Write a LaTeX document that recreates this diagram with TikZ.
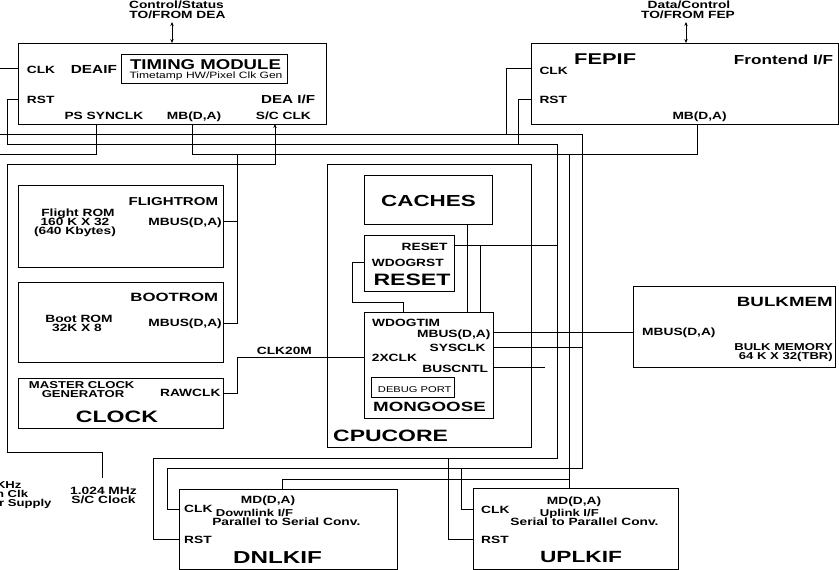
\documentclass[tikz,border=0pt]{standalone}
\usepackage{fontspec}
\setmainfont{Liberation Sans}[FakeStretch=1.31]
\newfontfamily\widefont{Liberation Sans}[FakeStretch=1.4]
\usetikzlibrary{arrows.meta,fit}
\tikzset{
  box/.style={draw, line width=1pt, inner sep=0pt, rectangle},
  wire/.style={line width=0.9pt},
  lab/.style={inner sep=0pt, font=\fontsize{10.5}{11}\selectfont\bfseries},
  slab/.style={inner sep=0pt, font=\fontsize{10}{10}\selectfont\bfseries},
  rlab/.style={inner sep=0pt, font=\fontsize{#1}{#1}\selectfont},
  midl/.style={inner sep=0pt, font=\fontsize{#1}{#1}\selectfont\bfseries},
  bigl/.style={inner sep=0pt, font=\widefont\fontsize{#1}{#1}\selectfont\bfseries},
  mytip/.tip={Stealth[length=4pt,width=3.4pt]}
}
\begin{document}
\begin{tikzpicture}[x=1pt,y=-1pt]
\useasboundingbox (0,0) rectangle (839,570);
\clip (0,0) rectangle (839,570);

% ---------------- boxes
\node[box, fit={(18,43) (326,124)}] (deaif) {};
\node[box, fit={(121,54) (287,83)}] (timing) {};
\node[box, fit={(531,43) (838,124)}] (fepif) {};
\node[box, fit={(18,185) (223,267)}] (flight) {};
\node[box, fit={(18,282) (223,362)}] (boot) {};
\node[box, fit={(18,378) (223,428)}] (clock) {};
\node[box, fit={(327,164) (531,447)}] (cpucore) {};
\node[box, fit={(364,175) (492,224)}] (caches) {};
\node[box, fit={(364,235) (454,291)}] (reset) {};
\node[box, fit={(364,312) (493,418)}] (mongoose) {};
\node[box, fit={(371,377) (454,397)}] (debug) {};
\node[box, fit={(633,286) (835,367)}] (bulkmem) {};
\node[box, fit={(179,489) (397,569)}] (dnlkif) {};
\node[box, fit={(473,488) (678,569)}] (uplkif) {};

% ---------------- texts
\node[lab, anchor=base] (tDEA1) at (176.5,8.5) {Control/Status};
\node[lab, anchor=base] (tDEA2) at (177.5,18.5) {TO/FROM DEA};
\node[lab, anchor=base] (tFEP1) at (689,8.5) {Data/Control};
\node[lab, anchor=base] (tFEP2) at (688,18.5) {TO/FROM FEP};

\node[lab, anchor=base west] (dClk) at (26.7,73.3) {CLK};
\node[midl=11.7, anchor=base west] (dName) at (70.7,73.3) {DEAIF};
\node[midl=14.2, anchor=base] (tmName) at (205.5,69) {TIMING MODULE};
\node[rlab=9.2, anchor=base] (tmSub) at (206,78.7) {Timetamp HW/Pixel Clk Gen};
\node[lab, anchor=base west] (dRst) at (26.7,103.3) {RST};
\node[midl=11.6, anchor=base east] (dIF) at (315.3,103.3) {DEA I/F};
\node[lab, anchor=base west] (dPs) at (64.3,119) {PS SYNCLK};
\node[lab, anchor=base west] (dMb) at (166.7,119) {MB(D,A)};
\node[lab, anchor=base west] (dSc) at (255.7,119) {S/C CLK};

\node[bigl=15.6, anchor=base west] (fName) at (574,64.3) {FEPIF};
\node[midl=13.1, anchor=base east] (fIF) at (833.3,64.3) {Frontend I/F};
\node[lab, anchor=base west] (fClk) at (539.3,74) {CLK};
\node[lab, anchor=base west] (fRst) at (539.3,103.3) {RST};
\node[lab, anchor=base west] (fMb) at (672.3,119) {MB(D,A)};

\node[midl=11.5, anchor=base east] (frName) at (218.3,205) {FLIGHTROM};
\node[lab, anchor=base] (fr1) at (78,216) {Flight ROM};
\node[lab, anchor=base] (fr2) at (75,225.5) {160 K X 32};
\node[lab, anchor=base] (fr3) at (75,234.5) {(640 Kbytes)};
\node[lab, anchor=base east] (frMb) at (222,225.7) {MBUS(D,A)};

\node[bigl=12, anchor=base east] (brName) at (218.3,301.7) {BOOTROM};
\node[lab, anchor=base] (br1) at (79,322.7) {Boot ROM};
\node[lab, anchor=base] (br2) at (77,331.7) {32K X 8};
\node[lab, anchor=base east] (brMb) at (222,326.7) {MBUS(D,A)};

\node[slab, anchor=base] (ck1) at (81.7,388) {MASTER CLOCK};
\node[slab, anchor=base] (ck2) at (83,397) {GENERATOR};
\node[lab, anchor=base east] (ckRaw) at (220.7,396.7) {RAWCLK};
\node[bigl=16.5, anchor=base] (ckName) at (117,422.7) {CLOCK};
\node[lab, anchor=base west] (ck20) at (256.7,354) {CLK20M};

\node[bigl=16, anchor=base] (caName) at (428.5,206) {CACHES};
\node[lab, anchor=base east] (rsOut) at (447.7,250.7) {RESET};
\node[lab, anchor=base west] (rsWd) at (371.7,266) {WDOGRST};
\node[bigl=16.5, anchor=base west] (rsName) at (373.3,285.7) {RESET};
\node[lab, anchor=base west] (mgWd) at (372,326.7) {WDOGTIM};
\node[lab, anchor=base east] (mgMb) at (490.7,337.7) {MBUS(D,A)};
\node[lab, anchor=base east] (mgSys) at (485.7,351.7) {SYSCLK};
\node[lab, anchor=base west] (mg2x) at (371.7,361.7) {2XCLK};
\node[lab, anchor=base east] (mgBus) at (488.3,372.3) {BUSCNTL};
\node[rlab=8.5, anchor=base] (dbName) at (414.7,392.3) {DEBUG PORT};
\node[bigl=13.4, anchor=base] (mgName) at (429.5,411.7) {MONGOOSE};
\node[bigl=16.4, anchor=base west] (cpName) at (333,441.7) {CPUCORE};

\node[bigl=13.4, anchor=base east] (bkName) at (833,306) {BULKMEM};
\node[lab, anchor=base west] (bkMb) at (642,335) {MBUS(D,A)};
\node[slab, anchor=base east] (bk1) at (833,350.5) {BULK MEMORY};
\node[slab, anchor=base east] (bk2) at (833,359.5) {64 K X 32(TBR)};

\node[lab, anchor=base] (dnMd) at (268,503.3) {MD(D,A)};
\node[lab, anchor=base west] (dnClk) at (184,512.7) {CLK};
\node[slab, anchor=base] (dn1) at (254.5,516) {Downlink I/F};
\node[lab, anchor=base] (dn2) at (286.3,525.3) {Parallel to Serial Conv.};
\node[lab, anchor=base west] (dnRst) at (184,543.3) {RST};
\node[bigl=17.3, anchor=base] (dnName) at (277.5,563.3) {DNLKIF};

\node[lab, anchor=base] (upMd) at (574,504.3) {MD(D,A)};
\node[lab, anchor=base west] (upClk) at (481,513.3) {CLK};
\node[slab, anchor=base] (up1) at (569.3,516) {Uplink I/F};
\node[lab, anchor=base] (up2) at (584.5,525.3) {Serial to Parallel Conv.};
\node[lab, anchor=base west] (upRst) at (481,543.3) {RST};
\node[bigl=16.2, anchor=base] (upName) at (581,562.7) {UPLKIF};

\node[lab, anchor=base] (sc1) at (103.5,494) {1.024 MHz};
\node[lab, anchor=base] (sc2) at (103.5,503.3) {S/C Clock};
\node[slab, anchor=base east] (ps1) at (21.7,488.5) {KHz};
\node[slab, anchor=base east] (ps2) at (28.3,497.5) {n Clk};
\node[slab, anchor=base east] (ps3) at (51.7,506.5) {r Supply};

% ---------------- pins and free ends
\coordinate (deaif-clk) at (18,68);
\coordinate (deaif-rst) at (18,99);
\coordinate (deaif-ps) at (96,124);
\coordinate (deaif-mb) at (192,124);
\coordinate (deaif-sc) at (275,124);
\coordinate (deaif-io) at (172,43);
\coordinate (dea-ext) at (172,22);
\coordinate (fep-clk) at (531,68);
\coordinate (fep-rst) at (531,99);
\coordinate (fep-mb) at (697,124);
\coordinate (fep-io) at (686,43);
\coordinate (fep-ext) at (686,22);
\coordinate (fr-mb) at (223,221);
\coordinate (br-mb) at (223,323);
\coordinate (ck-raw) at (223,393);
\coordinate (mg-2x) at (364,357);
\coordinate (mg-wd) at (403,312);
\coordinate (mg-c1) at (467,312);
\coordinate (mg-c2) at (480,312);
\coordinate (ca-b) at (467,224);
\coordinate (rs-out) at (454,245);
\coordinate (rs-wd) at (364,262);
\coordinate (mg-mbus) at (493,332);
\coordinate (mg-sys) at (493,347);
\coordinate (mg-bus) at (493,367);
\coordinate (bk-mbus) at (633,332);
\coordinate (dn-clk) at (179,509);
\coordinate (dn-rst) at (179,539);
\coordinate (dn-md) at (282,489);
\coordinate (up-clk) at (473,509);
\coordinate (up-rst) at (473,539);
\coordinate (up-md) at (569,488);
\coordinate (clk-off) at (-2,68);
\coordinate (clkbus-off) at (-2,134);
\coordinate (ps-off) at (-2,154);
\coordinate (bus-end) at (545,367);
\coordinate (sc-src) at (102,478);

% ---------------- wires
\draw[wire, mytip-mytip] (dea-ext) -- (deaif-io);
\draw[wire, mytip-mytip] (fep-ext) -- (fep-io);
\draw[wire] (deaif-clk) -- (clk-off);
% reset net
\draw[wire] (deaif-rst) -| (7,144) -| (557,458) -| (153,539) -- (dn-rst);
\draw[wire] (fep-rst) -| (518,144);
\draw[wire] (rs-out) -- (557,245);
\draw[wire] (448,458) |- (up-rst);
% clock net
\draw[wire] (clkbus-off) -| (582,468) -| (167,509) -- (dn-clk);
\draw[wire] (fep-clk) -| (506,134);
\draw[wire] (mg-sys) -- (582,347);
\draw[wire] (461,468) |- (up-clk);
% memory bus net
\draw[wire] (deaif-mb) |- (697,154) -- (fep-mb);
\draw[wire] (569,154) -- (up-md);
\draw[wire] (569,479) -| (dn-md);
\draw[wire] (237,154) |- (br-mb);
\draw[wire] (237,221) -- (fr-mb);
% PS sync clock
\draw[wire] (deaif-ps) |- (ps-off);
% S/C clock
\draw[wire, -mytip] (sc-src) |- (7,452) |- (275,164) -- (deaif-sc);
% CPU core internals
\draw[wire] (rs-wd) -| (352,302) -| (mg-wd);
\draw[wire] (mg-2x) -| (237,393) -- (ck-raw);
\draw[wire] (ca-b) -- (mg-c1);
\draw[wire] (480,245) -- (mg-c2);
\draw[wire] (mg-mbus) -- (bk-mbus);
\draw[wire] (mg-bus) -- (bus-end);
\end{tikzpicture}
\end{document}
